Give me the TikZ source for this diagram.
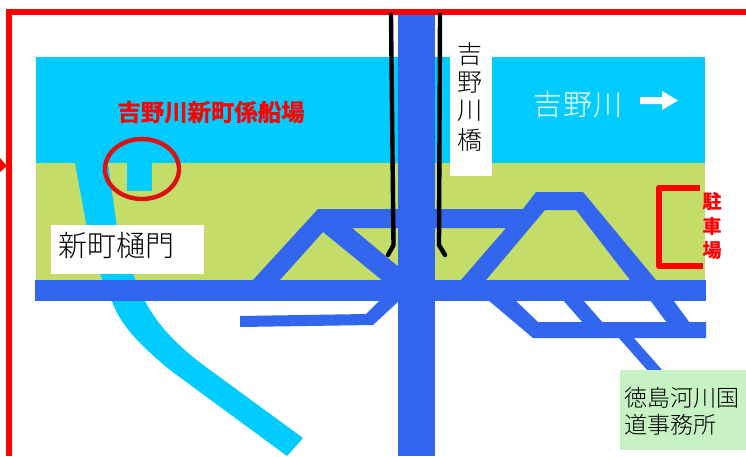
\documentclass[tikz,border=0pt]{standalone}
\usepackage{fontspec}
\setmainfont{Noto Sans CJK JP Light}[BoldFont={Noto Sans CJK JP Bold},BoldFeatures={FakeBold=1.3}]
\definecolor{rivercol}{HTML}{00CCFF}
\definecolor{landcol}{HTML}{C4DC68}
\definecolor{roadcol}{HTML}{3366EE}
\definecolor{officecol}{HTML}{C6F2C4}
\definecolor{ringcol}{HTML}{DD1111}
\tikzset{
  road/.style={fill=roadcol,draw=none},
  river/.style={fill=rivercol,draw=none},
  frameline/.style={draw=red,line width=6pt,line join=miter},
  bridgeline/.style={draw=black,line width=4.4pt,line cap=round},
  lbl/.style={inner sep=0pt,font=\fontsize{#1}{#1}\selectfont},
  lbl/.default=25pt,
  redlbl/.style={inner sep=0pt,text=red,font=\fontsize{#1}{#1}\selectfont\bfseries}
}
\begin{document}
\begin{tikzpicture}[x=1pt,y=-1pt]
\useasboundingbox (0,0) rectangle (746,456);
\fill[white] (0,0) rectangle (746,456);
% water and land
\fill[river] (36,57) rectangle (705,163);
\fill[landcol] (36,163) rectangle (705,281);
% side stream
\fill[river] (75,163) -- (108,163) -- (117,228) -- (133,274) -- (145,301)
  .. controls (160,330) and (185,352) .. (210,370) -- (303,438) -- (287,456)
  -- (170,370) .. controls (140,345) and (120,325) .. (112,301) -- (100,274) -- (87,228) -- cycle;
\fill[river] (127,163) rectangle (152,191);
% outer frame
\draw[frameline] (746,12) -- (9,12) -- (9,456);
\fill[red] (0,158) -- (7,166) -- (0,172) -- cycle;
% roads
\fill[road] (35,280) rectangle (706,301);
\fill[road] (253,280) -- (318,209) -- (523,209) -- (536,192) -- (583,192) -- (656,280)
  -- (630,280) -- (576,210) -- (545,210) -- (486,280) -- (461,280) -- (506,228)
  -- (352,228) -- (400,268) -- (400,281) -- (383,281) -- (323,232) -- (279,281) -- cycle;
\fill[road] (240,316) -- (366,314) -- (380,300) -- (400,300) -- (373,325) -- (240,327) -- cycle;
\fill[road] (488,300) -- (515,300) -- (538,322) -- (706,322) -- (706,332) -- (706,338) -- (533,338) -- cycle;
\fill[road] (563,300) -- (583,300) -- (603,323) -- (583,323) -- cycle;
\fill[road] (650,300) -- (673,300) -- (690,323) -- (667,323) -- cycle;
\fill[road] (618,337) -- (633,337) -- (663,371) -- (648,371) -- cycle;
\fill[road] (398,15) rectangle (435,456);
% bridge rails
\draw[bridgeline] (391,15) -- (393.5,245) -- (388,255);
\draw[bridgeline] (440,15) -- (439,245) -- (445,255);
% labels
\node[fill=white,minimum width=42pt,minimum height=136pt,inner sep=0pt] (bridgebox) at (471,108) {};
\node[lbl] (b1) at (470,54) {吉};
\node[lbl] (b2) at (470,83) {野};
\node[lbl] (b3) at (470,111) {川};
\node[lbl] (b4) at (470,140) {橋};
\node[lbl=29pt,text=white] (rivername) at (578,105) {吉\kern1pt 野\kern1pt 川};
\fill[white] (640,97) -- (662,97) -- (662,91) -- (678,100.5) -- (662,110) -- (662,104) -- (640,104) -- cycle;
\node[redlbl=23.4pt] (moor) at (211,112) {吉野川新町係船場};
\draw[ringcol,line width=4.4pt] (142,169) ellipse [x radius=37pt,y radius=30pt];
\node[fill=white,minimum width=153pt,minimum height=49pt,inner sep=0pt] (gatebox) at (127.5,249.5) {};
\node[lbl=29pt] (gate) at (116,246) {新町樋門};
\node[fill=officecol,minimum width=126pt,minimum height=80pt,inner sep=0pt] (officebox) at (683,410) {};
\node[lbl=23pt] (office1) at (682,398) {徳島河川国};
\node[lbl=23pt,anchor=west] (office2) at (624,425) {道事務所};
% parking
\draw[red,line width=6pt,line join=round] (700,187.5) -- (659,187.5) -- (659,266) -- (703,266);
\node[redlbl=19pt] (p1) at (712,201) {駐};
\node[redlbl=19pt] (p2) at (712,226) {車};
\node[redlbl=19pt] (p3) at (712,250) {場};
\end{tikzpicture}
\end{document}
